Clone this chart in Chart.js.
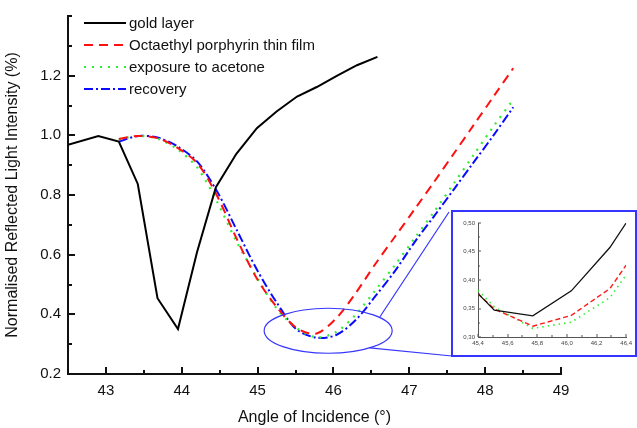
<!DOCTYPE html>
<html>
<head>
<meta charset="utf-8">
<script src="https://cdn.jsdelivr.net/npm/chart.js@4.4.0/dist/chart.umd.min.js"></script>
<style>
  body { margin:0; background:#fff; }
  canvas { display:block; }
  #wrap { position:relative; width:637px; height:428px; overflow:hidden; }
  #inset { position:absolute; left:451px; top:210px; border:2px solid #3535ff; background:#fff; }
</style>
</head>
<body>
<div id="wrap">
  <canvas id="mainChart" width="637" height="428"></canvas>
  <div id="inset"><canvas id="insetChart" width="182" height="143"></canvas></div>
</div>
<script>
// main chart data
const goldAngles = [42.5, 42.9, 43.17, 43.42, 43.68, 43.95, 44.2, 44.45, 44.72, 44.99, 45.25, 45.52, 45.78, 46.05, 46.31, 46.58];
const goldValues = [0.968, 0.998, 0.979, 0.837, 0.454, 0.351, 0.607, 0.826, 0.938, 1.024, 1.08, 1.13, 1.162, 1.2, 1.235, 1.263];

const angles = [43.17, 43.43, 43.69, 43.95, 44.21, 44.47, 44.73, 44.99, 45.25, 45.51, 45.77,
                46.03, 46.29, 46.55, 46.81, 47.07, 47.33, 47.59, 47.85, 48.11, 48.37];
const filmValues     = [0.988, 0.998, 0.99, 0.957, 0.905, 0.795, 0.65, 0.52, 0.425, 0.355, 0.335,
                        0.385, 0.47, 0.568, 0.66, 0.752, 0.845, 0.94, 1.035, 1.13, 1.225];
const acetoneValues  = [0.987, 0.998, 0.988, 0.952, 0.89, 0.775, 0.64, 0.525, 0.42, 0.355, 0.323,
                        0.34, 0.398, 0.48, 0.565, 0.655, 0.745, 0.84, 0.935, 1.03, 1.12];
const recoveryValues = [0.979, 0.998, 0.992, 0.962, 0.91, 0.81, 0.68, 0.55, 0.44, 0.35, 0.322,
                        0.33, 0.38, 0.46, 0.545, 0.642, 0.73, 0.82, 0.91, 1.0, 1.094];

// inset (zoom of the minimum)
const insetAngles = [45.4, 45.51, 45.77, 46.03, 46.29, 46.4];
const insetBlack  = [0.376, 0.347, 0.337, 0.381, 0.457, 0.50];
const insetRed    = [0.376, 0.349, 0.319, 0.338, 0.385, 0.426];
const insetGreen  = [0.382, 0.353, 0.315, 0.326, 0.369, 0.409];

const labels = ['gold layer', 'Octaethyl porphyrin thin film', 'exposure to acetone', 'recovery'];

Chart.defaults.font.family = '"Liberation Sans", Arial, sans-serif';
Chart.defaults.color = '#111';

const pts = (xs, ys) => xs.map((x, i) => ({x: x, y: ys[i]}));

// tick marks pointing into the plot
const inwardTicks = {
  id: 'inwardTicks',
  afterDraw(chart, args, opts) {
    const {ctx, chartArea: a, scales: {x, y}} = chart;
    ctx.save();
    ctx.strokeStyle = opts.color;
    ctx.lineWidth = opts.width;
    ctx.beginPath();
    x.ticks.forEach(t => {
      const px = Math.round(x.getPixelForValue(t.value));
      const len = t.label !== '' ? opts.major : opts.minor;
      ctx.moveTo(px, a.bottom);
      ctx.lineTo(px, a.bottom - len);
    });
    y.ticks.forEach(t => {
      const py = Math.round(y.getPixelForValue(t.value));
      const len = t.label !== '' ? opts.major : opts.minor;
      ctx.moveTo(a.left, py);
      ctx.lineTo(a.left + len, py);
    });
    ctx.stroke();
    ctx.restore();
  }
};

// legend in the top left + zoom ellipse
const decorations = {
  id: 'decorations',
  afterDatasetsDraw(chart) {
    const {ctx, scales: {x, y}} = chart;
    ctx.save();
    chart.data.datasets.forEach((ds, i) => {
      const ly = 23 + i * 22;
      ctx.strokeStyle = ds.borderColor;
      ctx.lineWidth = ds.borderWidth;
      ctx.setLineDash(ds.borderDash || []);
      ctx.beginPath();
      ctx.moveTo(84, ly);
      ctx.lineTo(126, ly);
      ctx.stroke();
      ctx.setLineDash([]);
      ctx.fillStyle = '#111';
      ctx.font = '15px "Liberation Sans", Arial, sans-serif';
      ctx.textBaseline = 'middle';
      ctx.fillText(ds.label, 129, ly + 1);
    });

    const cx = x.getPixelForValue(45.93), cy = y.getPixelForValue(0.345);
    const rx = 64, ry = 22.5;
    ctx.strokeStyle = '#3535ff';
    ctx.lineWidth = 1.2;
    ctx.beginPath();
    ctx.ellipse(cx, cy, rx, ry, 0, 0, Math.PI * 2);
    ctx.stroke();
    ctx.beginPath();
    ctx.moveTo(cx + rx * 0.81, cy - ry * 0.62);
    ctx.lineTo(449, 212);
    ctx.moveTo(cx + rx * 0.65, cy + ry * 0.76);
    ctx.lineTo(452, 356);
    ctx.stroke();
    ctx.restore();
  }
};

new Chart(document.getElementById('mainChart'), {
  type: 'line',
  data: {
    datasets: [
      { label: labels[0], data: pts(goldAngles, goldValues), borderColor: '#000000', borderWidth: 2, tension: 0 },
      { label: labels[1], data: pts(angles, filmValues), borderColor: '#ff1010', borderWidth: 2, borderDash: [9, 6], tension: 0.3 },
      { label: labels[2], data: pts(angles, acetoneValues), borderColor: '#30ee30', borderWidth: 2.2, borderDash: [2, 6], tension: 0.3 },
      { label: labels[3], data: pts(angles, recoveryValues), borderColor: '#0a0aff', borderWidth: 2, borderDash: [9, 3, 2, 3], tension: 0.3 }
    ]
  },
  options: {
    responsive: false,
    animation: false,
    layout: { padding: { top: 8, right: 76, left: 0, bottom: 0 } },
    elements: { point: { radius: 0 } },
    plugins: {
      legend: { display: false },
      tooltip: { enabled: false },
      inwardTicks: { color: '#111', width: 2, major: 7, minor: 4 }
    },
    scales: {
      x: {
        type: 'linear', min: 42.5, max: 49,
        grid: { display: false, drawTicks: false },
        border: { display: true, color: '#111', width: 2 },
        ticks: {
          stepSize: 0.5, autoSkip: false, maxRotation: 0, padding: 8,
          font: { size: 15 },
          callback: v => Math.abs(v - Math.round(v)) < 1e-6 ? String(Math.round(v)) : ''
        },
        title: { display: true, text: 'Angle of Incidence (°)', font: { size: 16 }, padding: { top: 0, bottom: 1 } },
        afterFit: s => { s.height = 54; }
      },
      y: {
        min: 0.2, max: 1.4,
        grid: { display: false, drawTicks: false },
        border: { display: true, color: '#111', width: 2 },
        ticks: {
          stepSize: 0.1, autoSkip: false, padding: 7,
          font: { size: 15 },
          callback: v => {
            const k = Math.round(v * 10);
            return (k % 2 === 0 && k < 14) ? (k / 10).toFixed(1) : '';
          }
        },
        title: { display: true, text: 'Normalised Reflected Light Intensity (%)', font: { size: 16 }, padding: { top: 3, bottom: 0 } },
        afterFit: s => { s.width = 68; }
      }
    }
  },
  plugins: [inwardTicks, decorations]
});

const comma = v => v.toFixed(v < 1 ? 2 : 1).replace('.', ',');

new Chart(document.getElementById('insetChart'), {
  type: 'line',
  data: {
    datasets: [
      { data: pts(insetAngles, insetBlack), borderColor: '#111', borderWidth: 1.3, tension: 0 },
      { data: pts(insetAngles, insetRed), borderColor: '#ff1a1a', borderWidth: 1.4, borderDash: [5, 3], tension: 0 },
      { data: pts(insetAngles, insetGreen), borderColor: '#33ee33', borderWidth: 1.6, borderDash: [1.5, 4], tension: 0 }
    ]
  },
  options: {
    responsive: false,
    animation: false,
    layout: { padding: { top: 11, right: 5, left: 0, bottom: 0 } },
    elements: { point: { radius: 0 } },
    plugins: {
      legend: { display: false },
      tooltip: { enabled: false },
      inwardTicks: { color: '#555', width: 1, major: 3, minor: 2 }
    },
    scales: {
      x: {
        type: 'linear', min: 45.4, max: 46.4,
        grid: { display: false, drawTicks: false },
        border: { display: true, color: '#555', width: 1 },
        ticks: {
          stepSize: 0.1, autoSkip: false, maxRotation: 0, padding: 3,
          color: '#444', font: { size: 6 },
          callback: v => Math.round(v * 10) % 2 === 0 ? comma(v) : ''
        },
        afterFit: s => { s.height = 18; }
      },
      y: {
        min: 0.3, max: 0.5,
        grid: { display: false, drawTicks: false },
        border: { display: true, color: '#555', width: 1 },
        ticks: {
          stepSize: 0.025, autoSkip: false, padding: 3,
          color: '#444', font: { size: 6 },
          callback: v => Math.round(v * 1000) % 50 === 0 ? comma(v) : ''
        },
        afterFit: s => { s.width = 25; }
      }
    }
  },
  plugins: [inwardTicks]
});
</script>
</body>
</html>
